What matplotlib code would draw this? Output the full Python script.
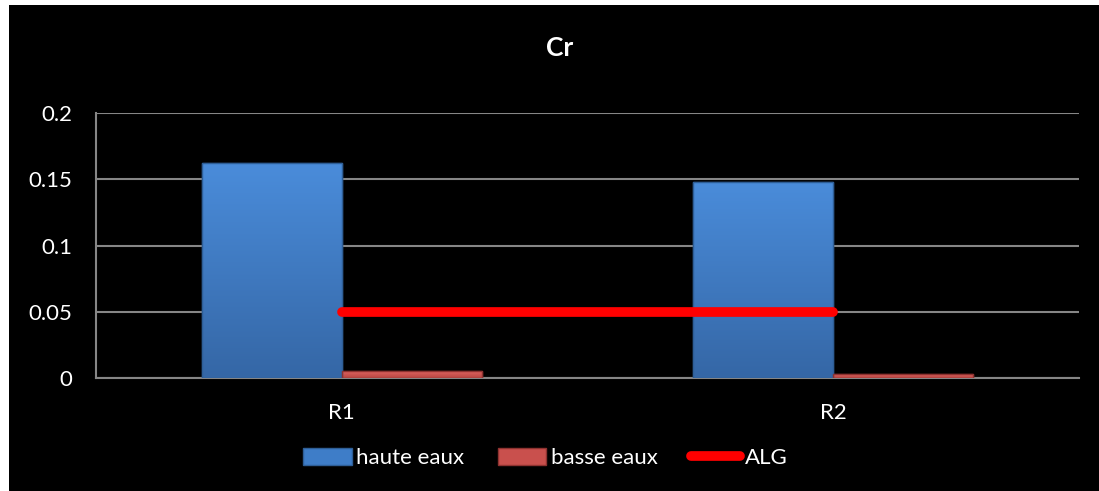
import numpy as np
import matplotlib
matplotlib.use("Agg")
import matplotlib.pyplot as plt
from matplotlib.patches import Rectangle, Patch
from matplotlib.lines import Line2D
from matplotlib.ticker import FuncFormatter
from matplotlib.colors import LinearSegmentedColormap

plt.rcParams['font.family'] = ['Lato', 'DejaVu Sans']

# données
categories = ["R1", "R2"]
haute_eaux = [0.162, 0.148]
basse_eaux = [0.005, 0.003]
alg = [0.05, 0.05]
y_ticks = [0, 0.05, 0.1, 0.15, 0.2]

fig = plt.figure(figsize=(10.99, 4.91), dpi=100, facecolor="white")
# fond noir du graphique (petite marge blanche en haut et à gauche)
fig.patches.append(Rectangle((9 / 1099, 0), 1, 1 - 5 / 491, transform=fig.transFigure,
                             facecolor="black", edgecolor="none", zorder=-10))

ax = fig.add_axes([96 / 1099, 1 - 378 / 491, 983 / 1099, 265 / 491])
ax.set_facecolor("black")

x = np.arange(len(categories))
w = 0.285

bars_h = ax.bar(x - w / 2, haute_eaux, width=w, color="#3E7DC8", edgecolor="#2E5E96",
                linewidth=1, zorder=3)
bars_b = ax.bar(x + w / 2, basse_eaux, width=w, color="#C9504D", edgecolor="#8E3230",
                linewidth=1, zorder=3)


# dégradé vertical dans les barres (effet relief)
def gradient(bars, top, bottom):
    cmap = LinearSegmentedColormap.from_list("g", [bottom, top])
    grad = np.linspace(0, 1, 100).reshape(-1, 1)
    for b in bars:
        x0, y0 = b.get_x(), b.get_y()
        im = ax.imshow(grad, cmap=cmap, origin="lower", aspect="auto",
                       extent=(x0, x0 + b.get_width(), y0, y0 + b.get_height()), zorder=3.5)
        im.set_clip_path(b)
        ax.add_patch(Rectangle((x0, y0), b.get_width(), b.get_height(), fill=False,
                               edgecolor=b.get_edgecolor(), linewidth=1, zorder=3.6))


gradient(bars_h, "#4A8CDA", "#3567A6")
gradient(bars_b, "#E06461", "#B84642")

ax.plot(x, alg, color="#FF0000", linewidth=7, solid_capstyle="round", zorder=4)

ax.set_xlim(-0.5, 1.5)
ax.set_ylim(0, 0.2)
ax.set_yticks(y_ticks)
ax.yaxis.set_major_formatter(FuncFormatter(lambda v, p: f"{v:g}"))
ax.set_xticks(x)
ax.set_xticklabels(categories)

ax.grid(axis="y", color="#868686", linewidth=1.5, zorder=0)
ax.set_axisbelow(True)
for s in ["top", "right"]:
    ax.spines[s].set_visible(False)
for s in ["left", "bottom"]:
    ax.spines[s].set_color("#868686")
    ax.spines[s].set_linewidth(1.5)

ax.tick_params(axis="both", length=0, colors="white", labelsize=16)
ax.tick_params(axis="y", pad=17)
ax.tick_params(axis="x", pad=18)

fig.text(560 / 1099, 1 - 48 / 491, "Cr", color="white", fontsize=19,
         fontweight="bold", ha="center", va="center")

handles = [
    Patch(facecolor="#3E7DC8", edgecolor="#2E5E96", label="haute eaux"),
    Patch(facecolor="#C9504D", edgecolor="#8E3230", label="basse eaux"),
    Line2D([0], [0], color="#FF0000", linewidth=7, solid_capstyle="round", label="ALG"),
]
leg = fig.legend(handles=handles, loc="center", bbox_to_anchor=(545 / 1099, 1 - 458 / 491),
                 ncol=3, frameon=False, fontsize=16, handlelength=2.2, handleheight=0.8,
                 handletextpad=0.2, columnspacing=1.5)
for t in leg.get_texts():
    t.set_color("white")

fig.savefig("out.png", dpi=100, facecolor=fig.get_facecolor())
